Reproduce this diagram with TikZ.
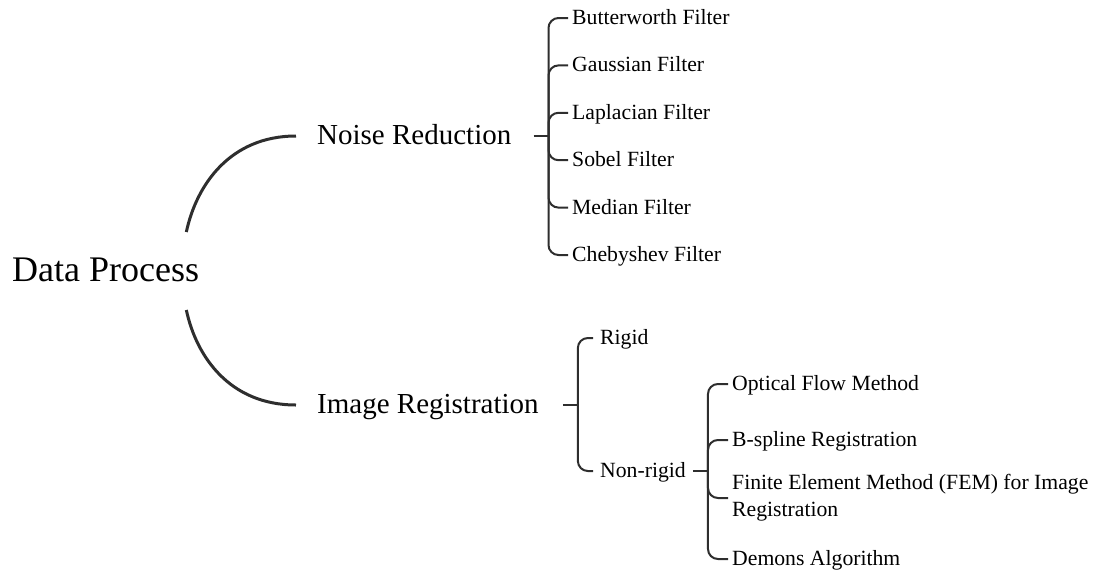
\documentclass[tikz,border=0pt]{standalone}
\usepackage{fontspec}
\setmainfont{Liberation Serif}
\usetikzlibrary{calc}
\definecolor{ln}{HTML}{2E2E2E}
\begin{document}
\begin{tikzpicture}[x=1pt,y=-1pt,
  lbl/.style={anchor=west,inner sep=0pt},
  root/.style={lbl,font=\fontsize{36}{43}\selectfont,text height=25.2pt,text depth=3.6pt},
  lvone/.style={lbl,font=\fontsize{29}{35}\selectfont,text height=20.3pt,text depth=2.9pt},
  leaf/.style={lbl,font=\fontsize{21.7}{27}\selectfont,text height=15.2pt,text depth=2.2pt},
  multileaf/.style={anchor=west,inner sep=0pt,align=left,font=\fontsize{21.7}{27}\selectfont},
  curve/.style={draw=ln,line width=3pt},
  br/.style={draw=ln,line width=2pt,rounded corners=10pt}]
\useasboundingbox (0,0) rectangle (1096,571);

% nodes
\node[root] (dp) at (12,271) {Data Process};
\node[lvone] (nr) at (317,136) {Noise Reduction};
\node[lvone] (ir) at (317,405) {Image Registration};

\node[leaf] (b1) at (572,18) {Butterworth Filter};
\node[leaf] (b2) at (572,65.4) {Gaussian Filter};
\node[leaf] (b3) at (572,112.8) {Laplacian Filter};
\node[leaf] (b4) at (572,160.2) {Sobel Filter};
\node[leaf] (b5) at (572,207.6) {Median Filter};
\node[leaf] (b6) at (572,255) {Chebyshev Filter};

\node[leaf] (rg) at (600,338) {Rigid};
\node[leaf] (nrg) at (600,471) {Non-rigid};

\node[leaf] (c1) at (732,384) {Optical Flow Method};
\node[leaf] (c2) at (732,440) {B-spline Registration};
\node[multileaf] (c3) at (732,498) {Finite Element Method (FEM) for Image\\Registration};
\node[leaf] (c4) at (732,559) {Demons Algorithm};

% root curves
\draw[curve] ($(dp.east)+(-13,-39)$) .. controls +(10,-47) and +(-66,0) .. ($(nr.west)+(-21,0)$);
\draw[curve] ($(dp.east)+(-13,39)$) .. controls +(10,47) and +(-66,0) .. ($(ir.west)+(-21,0)$);

% noise reduction bracket
\coordinate (nrj) at ($(nr.east)+(37,0)$);
\draw[br] ($(nr.east)+(22,0)$) -- (nrj);
\foreach \c in {b1,b2,b3,b4,b5,b6}
  \draw[br,shorten >=4pt] (nrj) |- (\c.west);

% image registration bracket
\coordinate (irj) at ($(ir.east)+(39,0)$);
\draw[br] ($(ir.east)+(24,0)$) -- (irj);
\foreach \c in {rg,nrg}
  \draw[br,shorten >=7pt] (irj) |- (\c.west);

% non-rigid bracket
\coordinate (nrgj) at ($(nrg.east)+(22,0)$);
\draw[br] ($(nrg.east)+(7,0)$) -- (nrgj);
\foreach \c in {c1,c2,c3,c4}
  \draw[br,shorten >=4pt] (nrgj) |- (\c.west);
\end{tikzpicture}
\end{document}
